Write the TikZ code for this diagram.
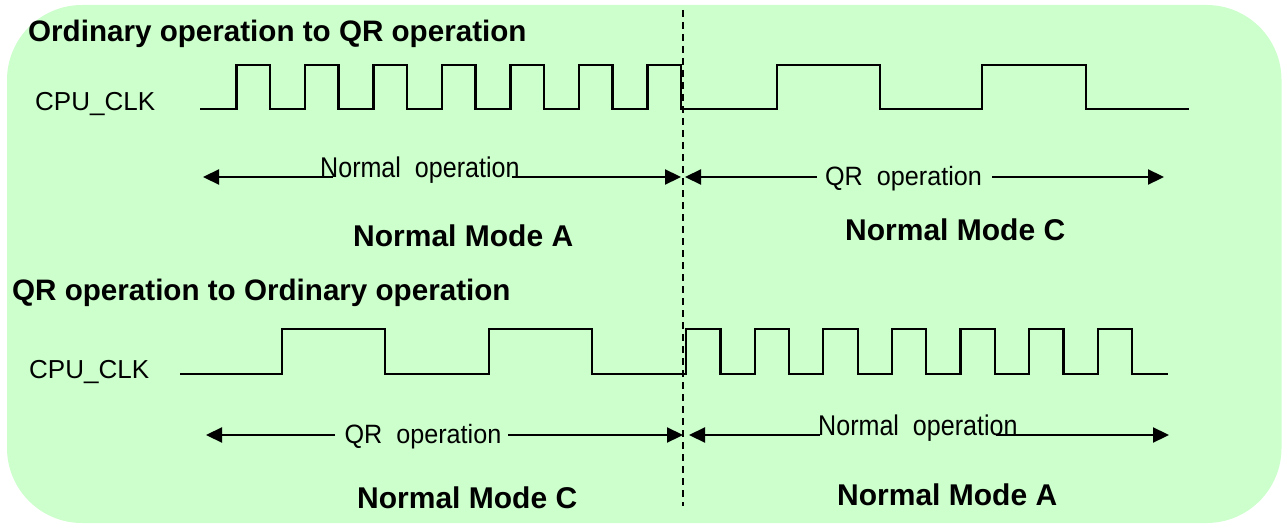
\documentclass[tikz,border=0pt]{standalone}
\usepackage{fontspec}
\setmainfont{Liberation Sans}
\newfontfamily\opfontA[FakeStretch=0.88]{Liberation Sans}
\newfontfamily\opfontB[FakeStretch=0.95]{Liberation Sans}
\usetikzlibrary{arrows.meta}
\definecolor{panelgreen}{RGB}{204,255,204}
\begin{document}
\begin{tikzpicture}[x=1pt,y=-1pt,
  heading/.style={font=\fontsize{29.6pt}{34pt}\selectfont\bfseries, anchor=base west, inner sep=0pt},
  clklabel/.style={font=\fontsize{26pt}{30pt}\selectfont, anchor=base west, inner sep=0pt},
  normop/.style={font=\opfontA\fontsize{28.5pt}{32pt}\selectfont, anchor=base west, inner sep=0pt},
  qrop/.style={font=\opfontB\fontsize{26.5pt}{30pt}\selectfont, anchor=base, inner sep=0pt},
  modelabel/.style={font=\fontsize{30pt}{34pt}\selectfont\bfseries, anchor=base west, inner sep=0pt},
  wave/.style={line width=2.2pt, line join=miter},
  span/.style={line width=2.2pt, -{Triangle[length=16pt,width=15pt]}},
  divider/.style={line width=1.5pt, dash pattern=on 7pt off 5pt}]
\useasboundingbox (0,0) rectangle (1282,524);
% rounded panel
\fill[panelgreen, rounded corners=75pt] (7,5) rectangle (1281.5,523);

% mode boundary
\coordinate (divtop) at (683,10);
\coordinate (divbot) at (683,506);
\draw[divider] (divtop) -- (divbot);

% ---------- upper half ----------
\node[heading] (h1) at (28,42) {Ordinary operation to QR operation};
\node[clklabel] (clk1) at (35,111) {CPU\_CLK};
\draw[wave] (200,109)
  foreach \k in {0,...,6} {
    -- ({236.5+68.5*\k},109) -- ({236.5+68.5*\k},65)
    -- ({270+68.5*\k},65) -- ({270+68.5*\k},109) }
  -- (777,109) -- (777,65) -- (880,65) -- (880,109)
  -- (982,109) -- (982,65) -- (1086,65) -- (1086,109) -- (1189,109);

\node[normop] (op1) at (320,177) {Normal\ \ operation};
\coordinate (a1l) at (203,177);
\coordinate (a1m) at (333,177);
\coordinate (a1n) at (512,177);
\coordinate (a1r) at (681,177);
\draw[span] (a1m) -- (a1l);
\draw[span] (a1n) -- (a1r);

\node[qrop] (op2) at (903.5,185) {QR\ \ operation};
\coordinate (a2l) at (685,177);
\coordinate (a2m) at (817,177);
\coordinate (a2n) at (992,177);
\coordinate (a2r) at (1164,177);
\draw[span] (a2m) -- (a2l);
\draw[span] (a2n) -- (a2r);

\node[modelabel] (m1) at (353,246.5) {Normal Mode A};
\node[modelabel] (m2) at (845,240) {Normal Mode C};

% ---------- lower half ----------
\node[heading] (h2) at (12,300) {QR operation to Ordinary operation};
\node[clklabel] (clk2) at (29,378) {CPU\_CLK};
\draw[wave] (180,374) -- (282,374) -- (282,329) -- (385,329) -- (385,374)
  -- (489,374) -- (489,329) -- (592,329) -- (592,374) -- (686,374)
  foreach \k in {0,...,6} {
    -- ({686+68.6*\k},374) -- ({686+68.6*\k},329)
    -- ({720.5+68.6*\k},329) -- ({720.5+68.6*\k},374) }
  -- (1168,374);

\node[qrop] (op3) at (423,443) {QR\ \ operation};
\coordinate (a3l) at (206,435);
\coordinate (a3m) at (335,435);
\coordinate (a3n) at (508,435);
\coordinate (a3r) at (683,435);
\draw[span] (a3m) -- (a3l);
\draw[span] (a3n) -- (a3r);

\node[normop] (op4) at (818,435) {Normal\ \ operation};
\coordinate (a4l) at (689,435);
\coordinate (a4m) at (820,435);
\coordinate (a4n) at (996,435);
\coordinate (a4r) at (1169,435);
\draw[span] (a4m) -- (a4l);
\draw[span] (a4n) -- (a4r);

\node[modelabel] (m3) at (357,508) {Normal Mode C};
\node[modelabel] (m4) at (837,505) {Normal Mode A};
\end{tikzpicture}
\end{document}
